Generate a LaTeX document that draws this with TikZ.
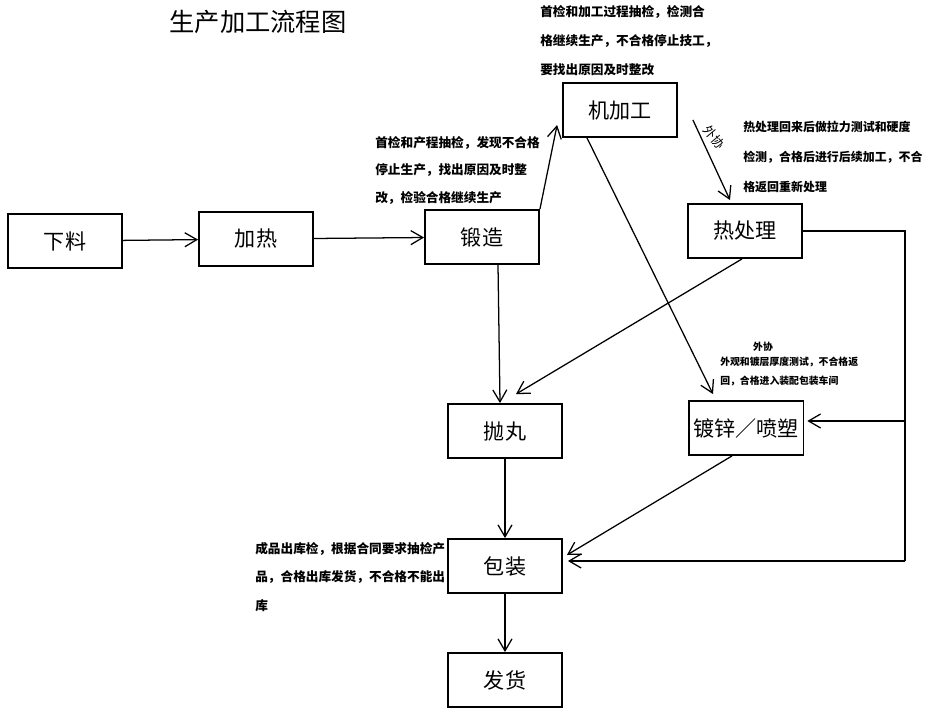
\documentclass[tikz,border=0pt]{standalone}
\usepackage{fontspec}
\setmainfont{Noto Sans CJK SC}
\usetikzlibrary{arrows.meta,calc}

\tikzset{
  box/.style={draw, line width=1.3pt, minimum width=2.85cm, minimum height=1.35cm, font=\fontsize{15}{18}\selectfont},
  flow/.style={->, >={Straight Barb[length=3mm,width=3.5mm]}, line width=0.9pt},
  line/.style={line width=0.9pt},
  note/.style={anchor=north west, inner sep=0pt, align=left}
}

\begin{document}
\begin{tikzpicture}[x=0.025cm, y=-0.025cm]
        \useasboundingbox (0,0) rectangle (927,711);

        \node (t) at (258,22) {\fontsize{18}{20}\selectfont 生产加工流程图};

        \node[box] (0) at (65,241) {下料};
        \node[box] (1) at (256,239) {加热};
        \node[box] (2) at (482,237) {锻造};
        \node[box] (3) at (620,110) {机加工};
        \node[box] (4) at (745,231) {热处理};
        \node[box] (5) at (746,428) {镀锌／喷塑};
        \node[box] (6) at (505,431) {抛丸};
        \node[box] (7) at (505,566) {包装};
        \node[box] (8) at (505,680) {发货};

        \node[note, font=\bfseries\fontsize{9}{20.6}\selectfont] (9) at (540,5) {首检和加工过程抽检，检测合\\格继续生产，不合格停止技工，\\要找出原因及时整改};
        \node[note, font=\bfseries\fontsize{9}{19.5}\selectfont] (10) at (375,136) {首检和产程抽检，发现不合格\\停止生产，找出原因及时整\\改，检验合格继续生产};
        \node[note, font=\bfseries\fontsize{8.5}{21.3}\selectfont] (11) at (743,121) {热处理回来后做拉力测试和硬度\\检测，合格后进行后续加工，不合\\格返回重新处理};
        \node[font=\fontsize{9}{10}\selectfont, rotate=-50, inner sep=0pt] (12) at (714,137) {外协};
        \node[font=\bfseries\fontsize{7}{8}\selectfont] (13) at (763,347) {外协};
        \node[note, font=\bfseries\fontsize{7}{13.5}\selectfont] (14) at (720,357) {外观和镀层厚度测试，不合格返\\回，合格进入装配包装车间};
        \node[note, font=\bfseries\fontsize{9}{20.2}\selectfont] (15) at (255,542) {成品出库检，根据合同要求抽检产\\品，合格出库发货，不合格不能出\\库};

        \coordinate (r1) at (905,231);
        \coordinate (r2) at (905,421);
        \coordinate (r3) at (905,561);

        \draw[flow] (0) -- (1);
        \draw[flow] (1) -- (2);
        \draw[flow] (2.north east) -- ($(3.west)+(-5,15)$);
        \draw[flow] ($(2.south)+(16,0)$) -- ($(6.north)+(-5,0)$);
        \draw[flow] ($(3.south)+(-33,0)$) -- ($(5.north)+(-33,-6)$);
        \draw[flow] ($(3.east)+(15,10)$) -- ($(4.north)+(-15,-3)$);
        \draw[flow] ($(4.south)+(-3,0)$) -- ($(6.north)+(11,-9)$);
        \draw[flow] ($(5.south)+(-14,0)$) -- ($(7.east)+(4,-11)$);
        \draw[flow] (6) -- (7);
        \draw[flow] (7) -- (8);
        \draw[line] (4.east) -- (r1) -- (r3);
        \draw[flow] (r3) -- ($(7.east)+(5,-5)$);
        \draw[flow] (r2) -- ($(5.east)+(3,-7)$);
      \end{tikzpicture}
\end{document}
